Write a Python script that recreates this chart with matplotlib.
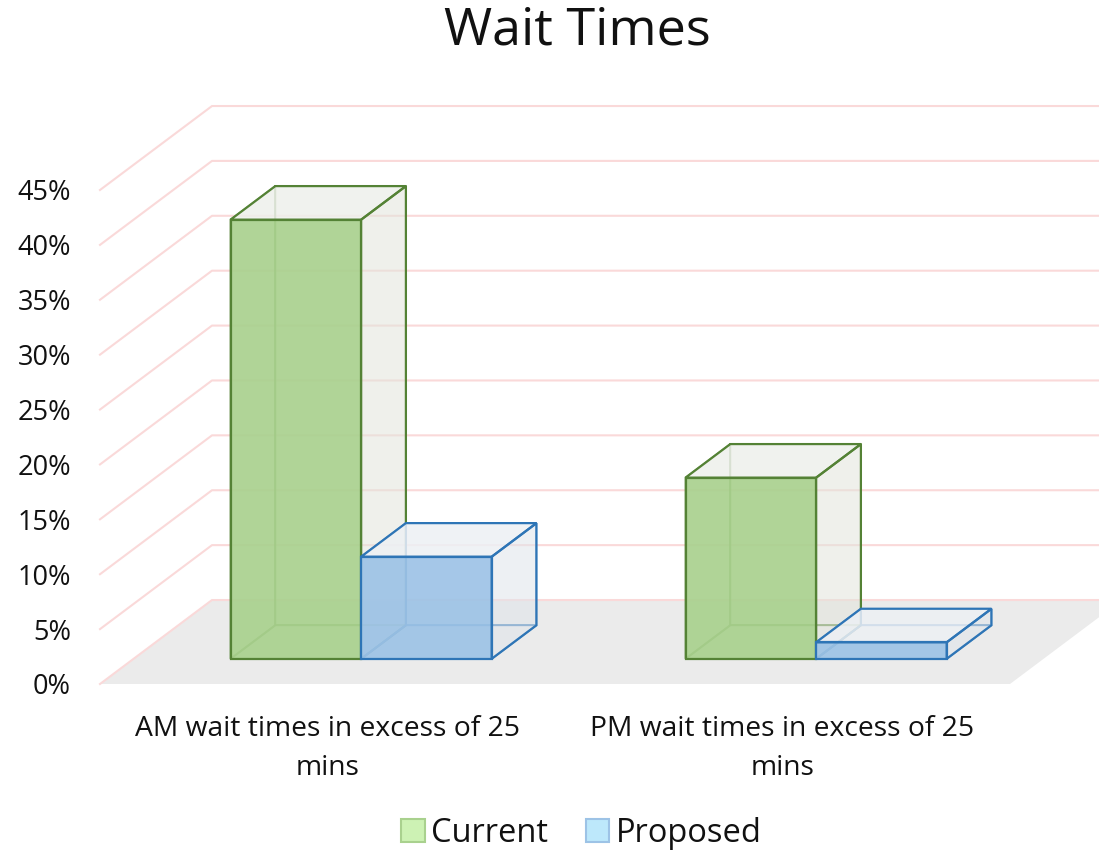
import numpy as np
import matplotlib.pyplot as plt
from matplotlib.patches import Polygon, Patch

plt.rcParams['font.family'] = ['Open Sans', 'DejaVu Sans']

# data
categories = ['AM wait times in excess of 25\nmins', 'PM wait times in excess of 25\nmins']
series = ['Current', 'Proposed']
current = [40.0, 16.5]
proposed = [9.3, 1.5]
yticks = list(range(0, 50, 5))

# styles
face_cols = ['#A9D18E', '#9DC3E6']
edge_cols = ['#548235', '#2E75B6']
side_cols = ['#E2E5DC', '#DFE4EA']
top_cols = ['#EEF0EB', '#EDF0F4']
legend_fill = ['#CDF2B4', '#BDE8FB']
legend_edge = ['#A9D18E', '#9DC3E6']
grid_col = '#FAD9D9'

DX, DY = 112 / 455, 84 / 10.98   # depth of the floor in data units
D0, D1 = 0.3, 0.7                # depth range occupied by the bars
W = 0.287                        # bar width (category units)


def proj(x, y, d):
    return (x + d * DX, y + d * DY)


def box(ax, x0, x1, h, fc, ec, sc, tc):
    P = proj
    # hidden faces (edges only)
    hidden = [
        [P(x0, 0, D1), P(x1, 0, D1), P(x1, h, D1), P(x0, h, D1)],
        [P(x0, 0, D0), P(x0, 0, D1), P(x0, h, D1), P(x0, h, D0)],
        [P(x0, 0, D0), P(x1, 0, D0), P(x1, 0, D1), P(x0, 0, D1)],
    ]
    for pts in hidden:
        ax.add_patch(Polygon(pts, closed=True, facecolor='none', edgecolor=ec,
                             lw=1.4, alpha=0.7, clip_on=False, zorder=3))
    right = [P(x1, 0, D0), P(x1, 0, D1), P(x1, h, D1), P(x1, h, D0)]
    top = [P(x0, h, D0), P(x1, h, D0), P(x1, h, D1), P(x0, h, D1)]
    front = [P(x0, 0, D0), P(x1, 0, D0), P(x1, h, D0), P(x0, h, D0)]
    ax.add_patch(Polygon(right, closed=True, facecolor=sc, alpha=0.55,
                         edgecolor='none', clip_on=False, zorder=3))
    ax.add_patch(Polygon(top, closed=True, facecolor=tc, alpha=0.85,
                         edgecolor='none', clip_on=False, zorder=3))
    ax.add_patch(Polygon(front, closed=True, facecolor=fc, alpha=0.92,
                         edgecolor='none', clip_on=False, zorder=3))
    for pts in (right, top, front):
        ax.add_patch(Polygon(pts, closed=True, facecolor='none', edgecolor=ec,
                             lw=1.6, clip_on=False, zorder=3))


fig = plt.figure(figsize=(10.99, 8.51), dpi=100)
ax = fig.add_axes([100 / 1099, 167 / 851, 910 / 1099, 494 / 851])
ax.set_xlim(0, len(categories))
ax.set_ylim(0, 45)
for s in ax.spines.values():
    s.set_visible(False)
ax.patch.set_visible(False)

n = len(categories)
# floor
ax.add_patch(Polygon([proj(0, 0, 0), proj(n, 0, 0), proj(n, 0, 1), proj(0, 0, 1)],
                     closed=True, facecolor='#EBEBEB', edgecolor='none',
                     clip_on=False, zorder=1))
# gridlines on side and back walls
for v in yticks:
    xs, ys = zip(proj(0, v, 0), proj(0, v, 1), proj(n, v, 1))
    ax.plot(xs, ys, color=grid_col, lw=1.5, clip_on=False, zorder=2)

# bars
vals = [current, proposed]
for i in range(n):
    for j in range(len(series)):
        x0 = i + (1 - 2 * W) / 2 + j * W
        box(ax, x0, x0 + W, vals[j][i], face_cols[j], edge_cols[j],
            side_cols[j], top_cols[j])

ax.set_yticks(yticks, [f'{v}%' for v in yticks])
ax.set_xticks(np.arange(n) + 0.5, categories)
ax.tick_params(axis='y', length=0, pad=21, labelsize=19.5, labelcolor='#111111')
ax.tick_params(axis='x', length=0, pad=22, labelsize=20.3, labelcolor='#111111')
for t in ax.get_xticklabels():
    t.set_linespacing(1.55)

fig.text(0.525, 0.963, 'Wait Times', ha='center', va='center', fontsize=37.5,
         color='#111111')

handles = [Patch(facecolor=legend_fill[k], edgecolor=legend_edge[k], lw=1.5, label=series[k])
           for k in range(len(series))]
fig.legend(handles=handles, loc='center', bbox_to_anchor=(0.529, 0.021), ncol=2,
           frameon=False, fontsize=23.5, handlelength=0.72, handleheight=0.72,
           handletextpad=0.2, columnspacing=1.15, labelcolor='#111111')

fig.savefig('out.png', dpi=100)
